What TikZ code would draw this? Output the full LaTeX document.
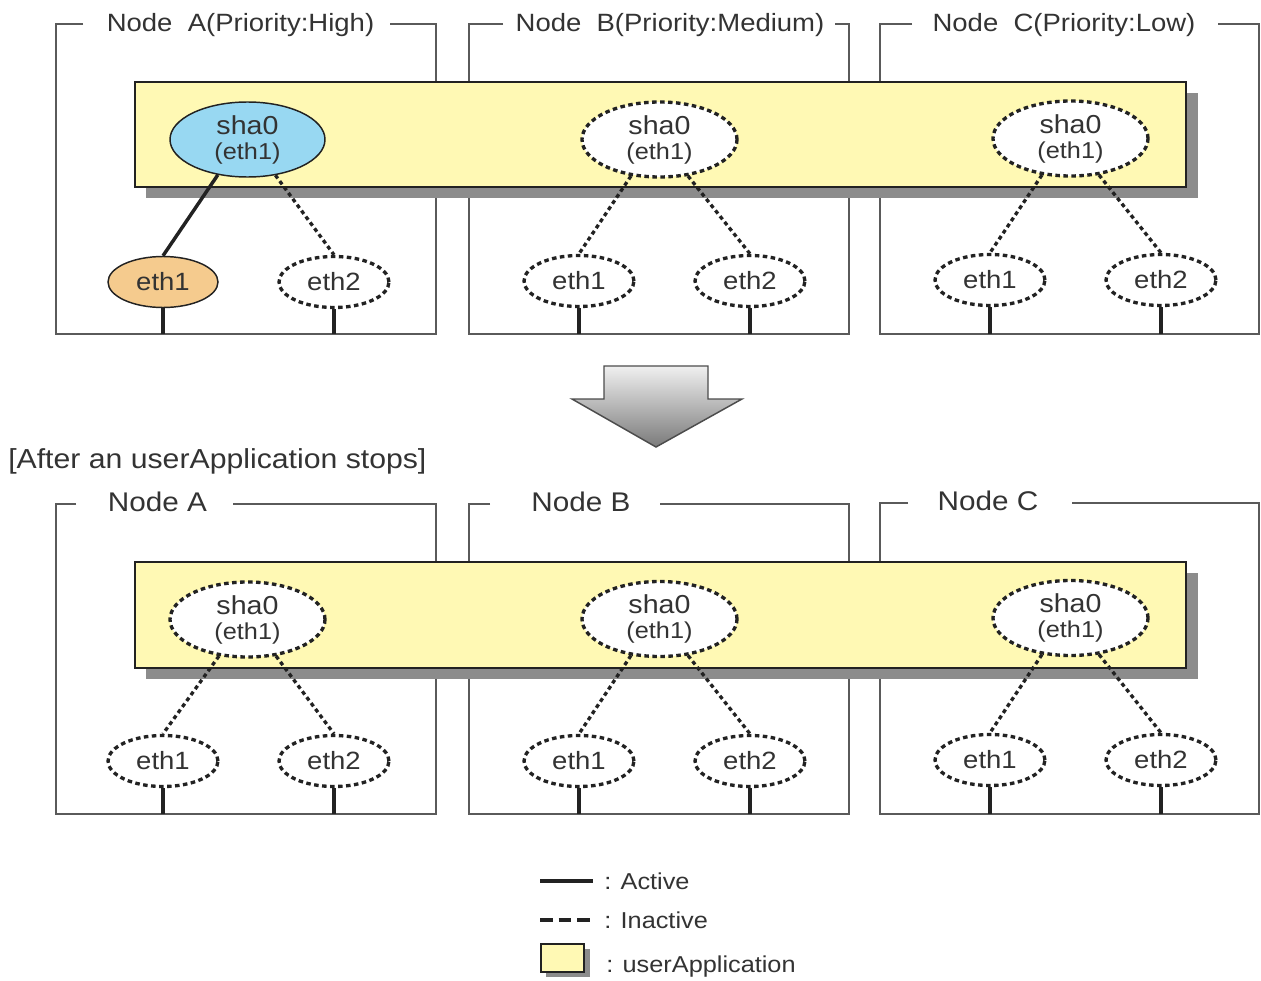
\documentclass[tikz,border=0pt]{standalone}
\usepackage{fontspec}
\setmainfont{Liberation Sans}[FakeStretch=1.1]
\usetikzlibrary{shapes.geometric}
\definecolor{txt}{HTML}{333333}
\definecolor{framegray}{HTML}{5A5A5A}
\definecolor{appyellow}{HTML}{FFF9B4}
\definecolor{shadowgray}{HTML}{8C8C8C}
\definecolor{shablue}{HTML}{98D8F2}
\definecolor{ethorange}{HTML}{F5CB8E}
\definecolor{linedark}{HTML}{222222}
\tikzset{
  frameline/.style={draw=framegray, line width=1.1pt},
  appbox/.style={draw=linedark, line width=1.1pt, fill=appyellow},
  appshadow/.style={fill=shadowgray},
  shabase/.style={ellipse, minimum width=116.25pt, minimum height=56.25pt, inner sep=0pt, align=center, text=txt, font=\fontsize{19.5pt}{18.75pt}\selectfont},
  shaact/.style={shabase, draw=linedark, line width=1.1pt, fill=shablue},
  shainact/.style={shabase, draw=linedark, line width=2.5pt, dash pattern=on 3.4pt off 2.6pt, fill=white},
  ethbase/.style={ellipse, minimum width=82.5pt, minimum height=38.25pt, inner sep=0pt, text=txt, font=\fontsize{18.75pt}{22pt}\selectfont},
  ethact/.style={ethbase, draw=linedark, line width=1.1pt, fill=ethorange},
  ethinact/.style={ethbase, draw=linedark, line width=2.5pt, dash pattern=on 3.4pt off 2.6pt, fill=white},
  activeline/.style={draw=linedark, line width=2.6pt},
  inactiveline/.style={draw=linedark, line width=2.5pt, dash pattern=on 3pt off 2.5pt},
  legdash/.style={draw=linedark, line width=2.6pt, dash pattern=on 9.5pt off 4.5pt},
  stub/.style={draw=linedark, line width=2.4pt},
  toptitle/.style={anchor=base, inner sep=0pt, text=txt, font=\fontsize{18.75pt}{22pt}\selectfont},
  bottitle/.style={anchor=base, inner sep=0pt, text=txt, font=\fontsize{20.25pt}{24pt}\selectfont},
  captext/.style={anchor=base west, inner sep=0pt, text=txt, font=\fontsize{20.6pt}{24pt}\selectfont},
  legtext/.style={anchor=base west, inner sep=0pt, text=txt, font=\fontsize{17.25pt}{20pt}\selectfont},
  bigarrow/.style={draw=black!70, line width=1.1pt, top color=black!6, bottom color=black!52}
}
\newcommand{\shatext}{sha0\\{\fontsize{17.25pt}{18.75pt}\selectfont (eth1)}}
\begin{document}
\begin{tikzpicture}[x=0.75pt,y=-0.75pt]
\useasboundingbox (0,0) rectangle (1261,981);

% ---------------- top frames ----------------
\draw[frameline] (83,24) -- (56,24) -- (56,334) -- (436,334) -- (436,24) -- (390,24);
\draw[frameline] (503,24) -- (469,24) -- (469,334) -- (849,334) -- (849,24) -- (835,24);
\draw[frameline] (912,24) -- (880,24) -- (880,334) -- (1259,334) -- (1259,24) -- (1218,24);
\coordinate (fbotA1) at (56,334);
\node[toptitle] (tA1) at (240.5,32) {Node~~A(Priority:High)};
\node[toptitle] (tB1) at (670,32) {Node~~B(Priority:Medium)};
\node[toptitle] (tC1) at (1064,32) {Node~~C(Priority:Low)};

% userApplication
\fill[appshadow] (146,93) rectangle (1198,198);
\draw[appbox] (135,82) rectangle (1186,187);

% nodes top
\node[shaact] (shaA1) at (247.5,139.5) {\shatext};
\node[shainact] (shaB1) at (659.5,139.5) {\shatext};
\node[shainact] (shaC1) at (1070.5,138.5) {\shatext};
\node[ethact] (eA11) at (163,282) {eth1};
\node[ethinact] (eA21) at (334,282) {eth2};
\node[ethinact] (eB11) at (579,281) {eth1};
\node[ethinact] (eB21) at (750,281) {eth2};
\node[ethinact] (eC11) at (990,280) {eth1};
\node[ethinact] (eC21) at (1161,280) {eth2};

\draw[activeline] (shaA1.230) -- (eA11.north);
\draw[inactiveline] (shaA1.308) -- (eA21.north);
\draw[inactiveline] (shaB1.232) -- (eB11.north);
\draw[inactiveline] (shaB1.308) -- (eB21.north);
\draw[inactiveline] (shaC1.232) -- (eC11.north);
\draw[inactiveline] (shaC1.308) -- (eC21.north);

\foreach \e in {eA11,eA21,eB11,eB21,eC11,eC21}{
  \draw[stub] (\e.south) -- (\e.south |- fbotA1);
}

% ---------------- arrow ----------------
\path[bigarrow] (604,366) -- (708,366) -- (708,399) -- (742,399) -- (656,447) -- (572,399) -- (604,399) -- cycle;

\node[captext] (cap) at (8,468) {[After an userApplication stops]};

% ---------------- bottom frames ----------------
\draw[frameline] (76,504) -- (56,504) -- (56,814) -- (436,814) -- (436,504) -- (233,504);
\draw[frameline] (490,504) -- (469,504) -- (469,814) -- (849,814) -- (849,504) -- (660,504);
\draw[frameline] (908,503) -- (880,503) -- (880,814) -- (1259,814) -- (1259,503) -- (1072,503);
\coordinate (fbotA2) at (56,814);
\node[bottitle] (tA2) at (157.5,511) {Node A};
\node[bottitle] (tB2) at (581,511) {Node B};
\node[bottitle] (tC2) at (988,510) {Node C};

\fill[appshadow] (146,573) rectangle (1198,679);
\draw[appbox] (135,562) rectangle (1186,668);

\node[shainact] (shaA2) at (247.5,619.5) {\shatext};
\node[shainact] (shaB2) at (659.5,619) {\shatext};
\node[shainact] (shaC2) at (1070.5,618) {\shatext};
\node[ethinact] (eA12) at (163,761) {eth1};
\node[ethinact] (eA22) at (334,761) {eth2};
\node[ethinact] (eB12) at (579,761) {eth1};
\node[ethinact] (eB22) at (750,761) {eth2};
\node[ethinact] (eC12) at (990,760) {eth1};
\node[ethinact] (eC22) at (1161,760) {eth2};

\draw[inactiveline] (shaA2.232) -- (eA12.north);
\draw[inactiveline] (shaA2.308) -- (eA22.north);
\draw[inactiveline] (shaB2.232) -- (eB12.north);
\draw[inactiveline] (shaB2.308) -- (eB22.north);
\draw[inactiveline] (shaC2.232) -- (eC12.north);
\draw[inactiveline] (shaC2.308) -- (eC22.north);

\foreach \e in {eA12,eA22,eB12,eB22,eC12,eC22}{
  \draw[stub] (\e.south) -- (\e.south |- fbotA2);
}

% ---------------- legend ----------------
\coordinate (la1) at (540,881);
\coordinate (la2) at (593,881);
\coordinate (li1) at (540,920);
\coordinate (li2) at (593,920);
\draw[activeline] (la1) -- (la2);
\draw[legdash] (li1) -- (li2);
\node[legtext] (lact) at (604,889) {: Active};
\node[legtext] (linact) at (604,928) {: Inactive};
\fill[appshadow] (546,949) rectangle (590,977);
\draw[appbox] (541,944) rectangle (584,972);
\node[legtext] (lapp) at (606,972) {: userApplication};
\end{tikzpicture}
\end{document}
